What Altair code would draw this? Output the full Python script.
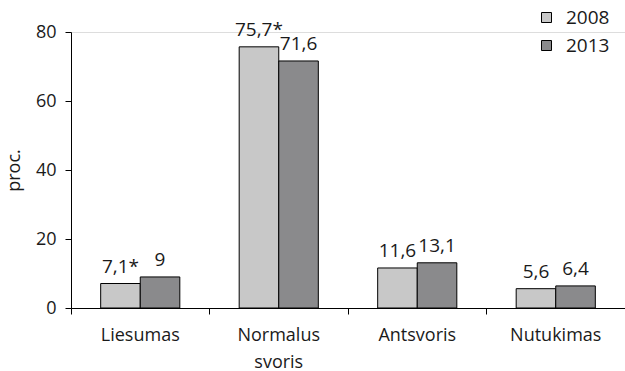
import altair as alt
import pandas as pd

categories = ["Liesumas", "Normalus svoris", "Antsvoris", "Nutukimas"]
years = ["2008", "2013"]
values_2008 = [7.1, 75.7, 11.6, 5.6]
values_2013 = [9.0, 71.6, 13.1, 6.4]
labels_2008 = ["7,1*", "75,7*", "11,6", "5,6"]
labels_2013 = ["9", "71,6", "13,1", "6,4"]

rows = []
for i, c in enumerate(categories):
    rows.append({"cat": c, "year": "2008", "v": values_2008[i], "lab": labels_2008[i]})
    rows.append({"cat": c, "year": "2013", "v": values_2013[i], "lab": labels_2013[i]})
df = pd.DataFrame(rows)

FONT = "Open Sans"

x = alt.X("cat:N", sort=categories, title=None,
          scale=alt.Scale(paddingInner=0, paddingOuter=0),
          axis=alt.Axis(labelAngle=0, bandPosition=0, tickSize=6, labelPadding=12,
                        labelFontSize=18, labelColor="#1a1a1a", labelFont=FONT,
                        labelLineHeight=27, domainColor="#000", tickColor="#000",
                        labelExpr="datum.label == 'Normalus svoris' ? ['Normalus', 'svoris'] : datum.label"))
xo = alt.XOffset("year:N", scale=alt.Scale(paddingInner=0, paddingOuter=0.75))

bars = alt.Chart(df).mark_bar(stroke="#000", strokeWidth=1).encode(
    x=x, xOffset=xo,
    y=alt.Y("v:Q", scale=alt.Scale(domain=[0, 80], nice=False),
            axis=alt.Axis(values=[0, 20, 40, 60, 80], grid=False, tickSize=6,
                          labelFontSize=18, labelColor="#1a1a1a", labelFont=FONT,
                          labelPadding=9, domainColor="#000", tickColor="#000",
                          title="proc.", titleFontSize=18, titleFontWeight="normal",
                          titleFont=FONT, titleColor="#1a1a1a", titlePadding=12)),
    color=alt.Color("year:N", scale=alt.Scale(domain=years, range=["#c8c8c8", "#8a8a8c"]),
                    legend=alt.Legend(title=None, orient="none", legendX=466, legendY=-24,
                                      symbolType="square", symbolSize=100,
                                      symbolStrokeColor="#000", symbolStrokeWidth=1,
                                      labelFontSize=19, labelFont=FONT, labelColor="#1a1a1a",
                                      rowPadding=8, labelOffset=10)),
)

text = alt.Chart(df).mark_text(dy=-11, baseline="alphabetic", fontSize=19, font=FONT,
                               color="#1a1a1a").encode(
    x=x, xOffset=xo, y="v:Q", text="lab:N"
)

chart = (bars + text).properties(
    width=554, height=276,
    autosize=alt.AutoSizeParams(type="none"),
    padding={"left": 71, "top": 32, "right": 0, "bottom": 63},
).configure_view(stroke=None).configure(background="white")

chart.save("out.html", embed_options={"renderer": "svg", "actions": False})
